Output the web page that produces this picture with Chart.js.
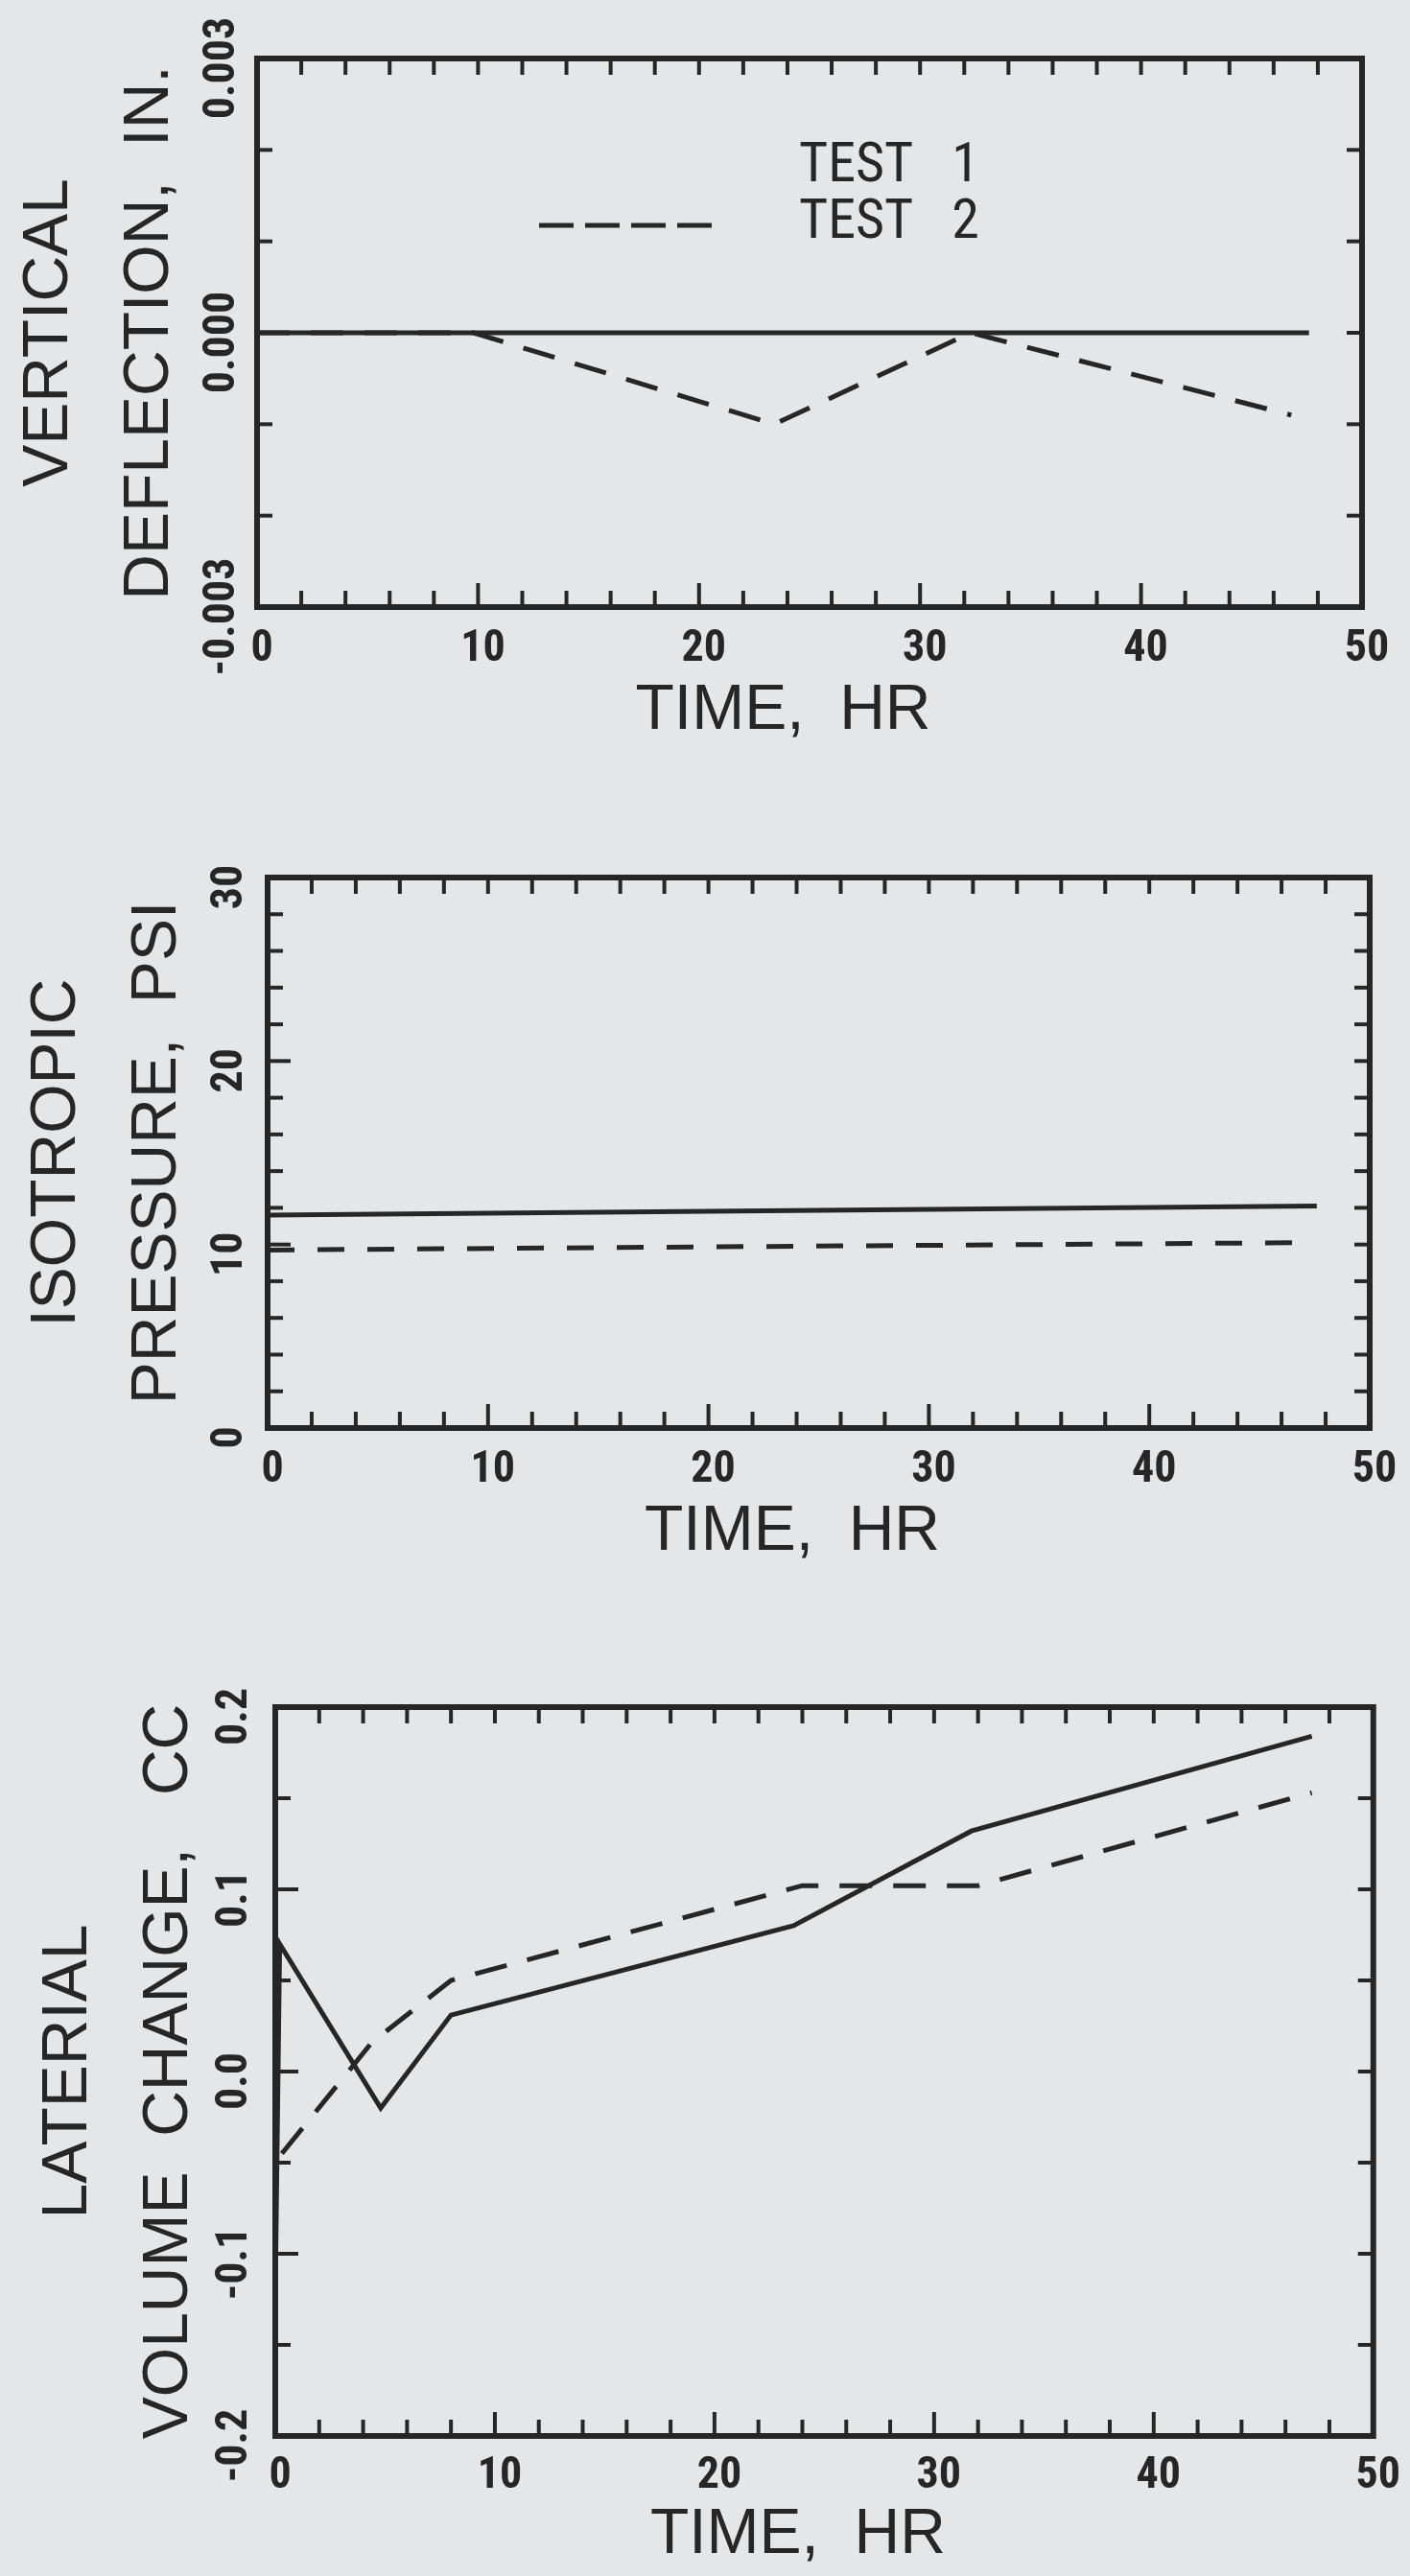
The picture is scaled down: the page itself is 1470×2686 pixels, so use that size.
<!DOCTYPE html>
<html>
<head>
<meta charset="utf-8">
<title>Deflection, pressure and volume change vs time</title>
<script src="https://cdn.jsdelivr.net/npm/chart.js@4.4.1/dist/chart.umd.min.js"></script>
<style>
  html, body { margin: 0; padding: 0; background: #e4e6e7; }
  body { width: 1470px; height: 2686px; position: relative; overflow: hidden; }
  canvas { position: absolute; left: 0; }
</style>
</head>
<body>
<canvas id="deflectionChart" width="1470" height="820" style="top:0px"></canvas>
<canvas id="pressureChart" width="1470" height="870" style="top:820px"></canvas>
<canvas id="volumeChart" width="1470" height="996" style="top:1690px"></canvas>
<script>
// time axis, hr
const timeTicks = ["0", "10", "20", "30", "40", "50"];

// vertical deflection, in.
const deflTime1 = [0, 9.8, 23.4, 32.3, 47.6];
const deflTest1 = [0, 0, 0, 0, 0];
const deflTime2 = [0, 9.8, 23.4, 32.3, 46.8];
const deflTest2 = [0, 0, -0.001, 0, -0.0009];
const deflTicks = ["-0.003", "0.000", "0.003"];

// isotropic pressure, psi
const presTime1 = [0, 47.6];
const presTest1 = [11.6, 12.1];
const presTime2 = [0, 46.6];
const presTest2 = [9.7, 10.1];
const presTicks = ["0", "10", "20", "30"];

// lateral volume change, cc
const volTime1 = [0, 0.2, 4.8, 8, 23.6, 31.7, 47.2];
const volTest1 = [-0.122, 0.07, -0.02, 0.031, 0.08, 0.132, 0.184];
const volTime2 = [0.3, 4.4, 8, 24, 32, 47.2];
const volTest2 = [-0.045, 0.016, 0.05, 0.102, 0.102, 0.153];
const volTicks = ["-0.2", "-0.1", "0.0", "0.1", "0.2"];

const ink = "#262626";
const narrow = '"Liberation Sans Narrow", "Roboto Condensed", "DejaVu Sans Condensed", "Liberation Sans", sans-serif';
const plain = '"Liberation Sans", Arial, sans-serif';
const tickFont = { family: narrow, size: 46, weight: "bold" };

function widestLabel(labels) {
    const ctx = document.createElement("canvas").getContext("2d");
    ctx.font = `bold ${tickFont.size}px ${narrow}`;
    return Math.max(...labels.map((s) => ctx.measureText(s).width));
}

// box round the plot with inward tick marks on all four sides
const framePlugin = {
    id: "frame",
    afterDatasetsDraw(chart, args, opts) {
        const { ctx, chartArea: a, scales: { x, y } } = chart;
        const line = (x1, y1, x2, y2) => {
            ctx.beginPath();
            ctx.moveTo(x1, y1);
            ctx.lineTo(x2, y2);
            ctx.stroke();
        };
        ctx.save();
        ctx.strokeStyle = ink;
        ctx.lineWidth = 4;
        const nx = Math.round((x.max - x.min) / opts.xStep);
        for (let i = 1; i < nx; i++) {
            const v = x.min + i * opts.xStep;
            const px = x.getPixelForValue(v);
            const major = x.ticks.some((t) => Math.abs(t.value - v) < 1e-9);
            line(px, a.bottom, px, a.bottom - (major ? 25 : 17));
            line(px, a.top, px, a.top + 17);
        }
        const ny = Math.round((y.max - y.min) / opts.yStep);
        for (let i = 1; i < ny; i++) {
            const v = y.min + i * opts.yStep;
            const py = y.getPixelForValue(v);
            const major = y.ticks.some((t) => Math.abs(t.value - v) < opts.yStep / 10);
            line(a.left, py, a.left + (major ? 24 : 16), py);
            line(a.right, py, a.right - 16, py);
        }
        ctx.lineWidth = 6;
        ctx.strokeRect(a.left, a.top, a.right - a.left, a.bottom - a.top);
        ctx.restore();
    },
};

// legend sitting inside the top plot
const legendPlugin = {
    id: "testLegend",
    afterDraw(chart) {
        const { ctx, chartArea: a } = chart;
        const ds = chart.data.datasets;
        ctx.save();
        ctx.fillStyle = ink;
        ctx.font = `58px ${narrow}`;
        ctx.textBaseline = "middle";
        ctx.fillText(ds[0].label, a.left + 565, a.top + 113);
        ctx.fillText(ds[1].label, a.left + 565, a.top + 172);
        ctx.strokeStyle = ink;
        ctx.lineWidth = 5;
        ctx.setLineDash([36, 12]);
        ctx.beginPath();
        ctx.moveTo(a.left + 294, a.top + 174);
        ctx.lineTo(a.left + 474, a.top + 174);
        ctx.stroke();
        ctx.restore();
    },
};

const points = (xs, ys) => xs.map((t, i) => ({ x: t, y: ys[i] }));

function buildChart(id, s) {
    const yValues = s.yTicks.map(Number);
    const yPad = s.left - s.yLabelX - widestLabel(s.yTicks) / 2;
    return new Chart(document.getElementById(id), {
        type: "line",
        data: {
            datasets: [
                { label: "TEST   1", data: points(s.t1, s.v1), borderColor: ink, borderWidth: 5, pointRadius: 0, fill: false },
                { label: "TEST   2", data: points(s.t2, s.v2), borderColor: ink, borderWidth: 5, borderDash: s.dash, pointRadius: 0, fill: false },
            ],
        },
        options: {
            responsive: false,
            animation: false,
            devicePixelRatio: 1,
            layout: { padding: { top: s.top, right: 1470 - s.right, left: 0, bottom: 0 } },
            plugins: {
                legend: { display: false },
                tooltip: { enabled: false },
                frame: { xStep: 2, yStep: s.yStep },
            },
            scales: {
                x: {
                    type: "linear",
                    min: 0,
                    max: 50,
                    afterBuildTicks: (sc) => { sc.ticks = timeTicks.map((v) => ({ value: Number(v) })); },
                    afterFit: (sc) => { sc.height = s.xHeight; },
                    grid: { display: false, drawTicks: false },
                    border: { display: false },
                    ticks: {
                        callback: (v, i) => timeTicks[i],
                        color: ink, font: tickFont, padding: s.xTickPad, labelOffset: 5,
                        maxRotation: 0, autoSkip: false,
                    },
                    title: {
                        // trailing spaces pull the centred title left, as in the original
                        display: true, text: "TIME,  HR   ", color: ink,
                        font: { family: plain, size: 66 },
                        padding: { top: 0, bottom: s.xTitlePad },
                    },
                },
                y: {
                    type: "linear",
                    min: yValues[0],
                    max: yValues[yValues.length - 1],
                    afterBuildTicks: (sc) => { sc.ticks = yValues.map((v) => ({ value: v })); },
                    afterFit: (sc) => { sc.width = s.left; },
                    grid: { display: false, drawTicks: false },
                    border: { display: false },
                    ticks: {
                        callback: (v, i) => s.yTicks[i],
                        color: ink, font: tickFont, minRotation: 90, maxRotation: 90,
                        crossAlign: "center", padding: yPad, labelOffset: 10, autoSkip: false,
                    },
                    title: {
                        display: true, text: s.yTitle, color: ink,
                        font: { family: plain, size: 66, lineHeight: 1.58 },
                        padding: { top: s.yTitlePad, bottom: 0 },
                    },
                },
            },
        },
        plugins: [framePlugin].concat(s.extra || []),
    });
}

buildChart("deflectionChart", {
    t1: deflTime1, v1: deflTest1, t2: deflTime2, v2: deflTest2, dash: [34, 22],
    yTicks: deflTicks, yStep: 0.001,
    yTitle: ["VERTICAL", "DEFLECTION,  IN."],
    top: 61, right: 1420, left: 268, xHeight: 187,
    xTickPad: 17, xTitlePad: 39, yLabelX: 232, yTitlePad: 0,
    extra: [legendPlugin],
});

buildChart("pressureChart", {
    t1: presTime1, v1: presTest1, t2: presTime2, v2: presTest2, dash: [28, 24],
    yTicks: presTicks, yStep: 2,
    yTitle: ["ISOTROPIC", "PRESSURE,  PSI"],
    top: 95, right: 1428, left: 279, xHeight: 201,
    xTickPad: 17, xTitlePad: 53, yLabelX: 240, yTitlePad: 8,
});

buildChart("volumeChart", {
    t1: volTime1, v1: volTest1, t2: volTime2, v2: volTest2, dash: [34, 22],
    yTicks: volTicks, yStep: 0.05,
    yTitle: ["LATERIAL", "VOLUME  CHANGE,   CC"],
    top: 90, right: 1437, left: 287, xHeight: 146,
    xTickPad: 15, xTitlePad: 3, yLabelX: 245, yTitlePad: 20,
});
</script>
</body>
</html>
